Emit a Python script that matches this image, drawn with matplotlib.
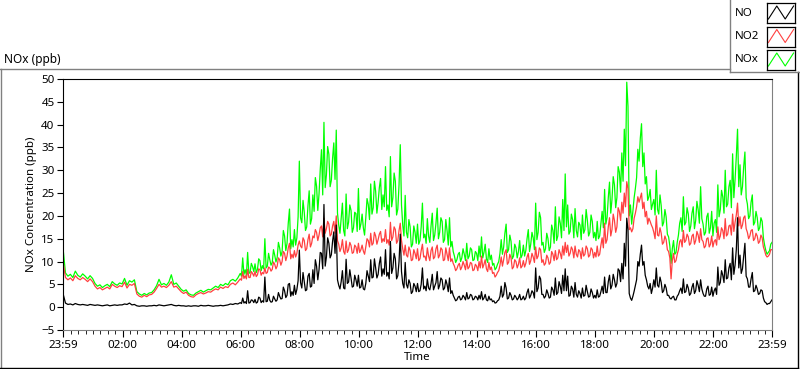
import numpy as np
import matplotlib
matplotlib.use('Agg')
import matplotlib.pyplot as plt
from matplotlib.lines import Line2D

plt.rcParams['font.family'] = ['Noto Sans', 'DejaVu Sans']

# night part: 5-minute samples from 23:59, one row per hour (00..05)
no_night = [
    3.0, 0.9, 0.6, 0.7, 0.5, 0.8, 0.6, 0.5, 0.6, 0.5, 0.4, 0.6,
    0.5, 0.4, 0.5, 0.4, 0.3, 0.4, 0.5, 0.3, 0.4, 0.5, 0.4, 0.5,
    0.5, 0.7, 0.6, 0.9, 0.5, 0.6, 0.3, 0.2, 0.3, 0.3, 0.2, 0.3,
    0.3, 0.4, 0.3, 0.5, 0.4, 0.3, 0.4, 0.5, 0.6, 0.4, 0.3, 0.4,
    0.3, 0.3, 0.2, 0.3, 0.2, 0.3, 0.3, 0.2, 0.4, 0.3, 0.3, 0.4,
    0.3, 0.2, 0.3, 0.3, 0.4, 0.3, 0.4, 0.5, 0.7, 0.6, 0.8, 0.7,
]
no2_night = [
    10.0, 6.5, 6.0, 6.4, 5.8, 6.9, 6.3, 6.0, 6.5, 6.1, 5.6, 6.2,
    5.6, 4.6, 4.0, 4.3, 3.8, 4.1, 4.4, 4.0, 5.0, 4.6, 4.3, 4.7,
    4.5, 5.5, 4.2, 5.0, 4.8, 5.2, 2.9, 2.4, 2.2, 2.6, 2.3, 2.7,
    2.8, 3.3, 4.1, 5.0, 4.4, 4.6, 4.3, 4.8, 5.6, 4.4, 4.6, 4.0,
    3.4, 3.0, 3.3, 2.6, 2.3, 2.2, 2.7, 3.0, 3.2, 2.9, 3.1, 3.4,
    3.3, 3.7, 4.0, 3.8, 4.4, 4.1, 4.5, 4.3, 5.0, 5.3, 4.9, 5.5,
]
nox_night = [
    13.0, 7.5, 6.8, 7.2, 6.5, 7.9, 7.0, 6.6, 7.3, 6.8, 6.2, 6.9,
    6.3, 5.2, 4.6, 4.9, 4.3, 4.7, 5.0, 4.5, 5.6, 5.1, 4.8, 5.3,
    5.1, 6.3, 4.8, 5.8, 5.5, 6.0, 3.4, 2.9, 2.6, 3.0, 2.7, 3.1,
    3.2, 3.8, 4.7, 6.1, 4.9, 5.2, 4.8, 5.5, 7.1, 5.0, 5.3, 4.6,
    3.9, 3.5, 3.8, 3.0, 2.7, 2.6, 3.1, 3.4, 3.7, 3.3, 3.6, 3.9,
    3.8, 4.2, 4.6, 4.3, 5.0, 4.7, 5.2, 4.9, 5.8, 6.1, 5.7, 6.4,
]

# day part: 2.5-minute samples from 06:00 to 23:59, one row per hour (06..23)
no_day = [
    1.0, 0.8, 2.0, 0.9, 1.2, 0.8, 3.6, 0.9, 1.0, 1.6, 1.5, 1.0, 1.7, 0.9, 1.1, 2.2, 2.0, 1.0, 1.4, 1.1, 6.6, 1.2, 1.3, 2.8,
    1.5, 1.1, 1.2, 2.4, 1.8, 1.3, 1.6, 3.2, 2.4, 1.8, 1.9, 4.4, 3.6, 2.1, 2.6, 5.0, 5.2, 2.4, 3.4, 2.6, 4.8, 2.8, 3.9, 5.8,
    12.5, 5.4, 4.2, 7.6, 5.6, 3.6, 3.8, 6.8, 7.4, 4.4, 4.6, 8.2, 5.2, 10.4, 9.0, 6.0, 8.2, 12.0, 11.8, 8.4, 22.5, 9.0, 11.0, 15.2,
    14.0, 10.8, 11.5, 14.4, 16.5, 11.8, 18.0, 6.0, 4.8, 4.0, 5.6, 8.0, 4.2, 4.0, 10.5, 5.2, 5.5, 8.2, 6.4, 4.4, 4.6, 7.0, 6.0, 4.6,
    7.0, 4.2, 4.4, 6.0, 4.0, 3.8, 5.2, 8.0, 6.8, 5.6, 10.4, 6.4, 6.6, 10.6, 8.6, 6.4, 7.2, 9.6, 11.0, 6.8, 8.4, 7.2, 12.6, 6.8,
    7.6, 6.2, 14.4, 7.4, 8.6, 11.8, 10.6, 6.2, 6.9, 10.0, 16.0, 7.8, 5.2, 4.2, 9.8, 5.0, 4.2, 6.0, 5.2, 3.0, 3.4, 5.2, 4.6, 3.4,
    5.2, 3.4, 3.6, 5.0, 8.6, 4.0, 4.6, 3.6, 6.2, 4.2, 3.8, 5.2, 7.2, 3.8, 4.6, 5.4, 7.8, 4.0, 4.8, 6.4, 6.0, 3.8, 4.2, 6.0,
    5.0, 3.4, 6.4, 3.0, 3.6, 2.6, 2.0, 1.4, 1.6, 2.2, 2.4, 1.6, 1.8, 2.6, 2.2, 1.6, 3.2, 1.8, 2.0, 2.8, 2.6, 1.6, 1.8, 2.4,
    2.2, 1.6, 2.6, 1.8, 3.4, 1.6, 2.0, 2.8, 1.6, 1.4, 2.4, 1.6, 1.8, 1.2, 1.4, 0.9, 1.0, 1.4, 1.6, 2.4, 4.6, 2.2, 2.8, 5.4,
    4.2, 1.8, 2.0, 3.2, 2.6, 1.6, 1.8, 2.6, 2.2, 1.6, 2.0, 2.8, 1.6, 1.8, 2.4, 1.6, 2.0, 3.2, 4.0, 2.0, 2.6, 3.6, 3.2, 2.0,
    8.6, 3.4, 4.2, 6.8, 6.2, 2.8, 2.8, 2.0, 2.4, 3.8, 3.0, 2.0, 2.2, 4.4, 3.8, 2.6, 6.4, 2.8, 3.2, 5.6, 4.6, 3.0, 7.0, 3.6,
    8.4, 3.6, 6.8, 2.4, 2.6, 4.6, 4.0, 2.2, 5.4, 2.8, 2.2, 3.6, 3.0, 2.0, 4.2, 2.4, 2.6, 4.8, 3.4, 2.2, 2.4, 4.0, 3.2, 2.0,
    2.6, 2.0, 3.8, 2.2, 2.4, 3.4, 4.6, 3.0, 6.6, 3.2, 3.2, 5.6, 7.0, 4.0, 4.8, 7.2, 6.0, 4.4, 5.2, 8.4, 8.0, 5.6, 9.6, 6.2,
    14.0, 9.0, 19.5, 17.0, 3.0, 2.0, 1.5, 2.4, 3.5, 4.8, 6.0, 10.0, 9.0, 11.6, 13.6, 9.2, 10.0, 7.0, 6.0, 4.6, 4.0, 5.2, 3.0, 4.2,
    6.0, 4.4, 8.6, 4.8, 4.4, 6.6, 5.4, 3.2, 3.6, 5.0, 4.2, 2.6, 2.6, 2.0, 1.8, 2.2, 2.4, 1.6, 1.6, 2.4, 2.8, 3.6, 4.2, 3.0,
    6.2, 3.2, 3.4, 5.0, 4.2, 2.6, 3.0, 4.4, 5.2, 3.0, 3.6, 5.8, 4.8, 3.4, 6.0, 4.0, 3.0, 2.4, 2.4, 4.0, 4.6, 2.6, 2.8, 4.4,
    2.4, 3.6, 4.2, 2.8, 8.8, 4.8, 5.4, 8.0, 7.0, 5.4, 10.4, 6.2, 6.4, 8.6, 9.6, 6.0, 13.0, 7.2, 9.2, 12.6, 19.6, 8.6, 11.4, 7.4,
    8.4, 11.2, 14.0, 6.8, 6.2, 4.4, 4.4, 6.2, 7.6, 3.4, 3.6, 4.8, 4.0, 2.8, 3.0, 3.8, 3.6, 2.0, 1.2, 1.0, 0.6, 0.8, 0.8, 1.2,
    1.6,
]
no2_day = [
    6.2, 5.9, 7.8, 6.3, 6.9, 6.2, 8.3, 6.5, 6.5, 7.8, 7.4, 6.8, 7.8, 6.7, 7.1, 8.4, 8.2, 7.0, 7.6, 7.3, 8.6, 7.4, 7.6, 8.8,
    8.6, 7.9, 8.3, 9.9, 9.4, 8.4, 9.0, 10.8, 10.4, 9.2, 10.0, 12.2, 11.8, 10.2, 11.2, 13.0, 14.0, 10.6, 11.6, 10.8, 12.4, 11.0, 11.8, 13.6,
    14.5, 13.4, 13.0, 15.2, 14.6, 12.4, 12.8, 14.8, 16.0, 13.2, 14.0, 15.6, 15.2, 17.0, 16.4, 14.6, 15.8, 17.4, 17.8, 15.4, 19.5, 16.2, 17.2, 18.8,
    18.2, 15.6, 16.0, 17.8, 18.8, 16.2, 20.0, 14.6, 13.8, 12.2, 13.0, 14.8, 12.2, 11.6, 14.5, 12.0, 12.6, 14.2, 13.5, 11.8, 12.0, 13.6, 13.2, 11.8,
    14.0, 12.0, 12.6, 13.6, 12.3, 11.6, 13.2, 15.0, 14.6, 13.2, 16.2, 13.6, 14.0, 16.4, 15.6, 13.8, 14.8, 16.0, 16.6, 14.2, 15.0, 14.4, 17.0, 14.0,
    14.8, 13.6, 18.6, 14.6, 15.4, 17.6, 17.0, 14.0, 14.6, 16.8, 18.4, 14.6, 12.8, 11.4, 13.6, 11.4, 11.0, 13.2, 12.4, 10.2, 10.4, 12.6, 11.8, 10.6,
    12.8, 10.2, 10.6, 12.4, 13.8, 11.0, 11.2, 10.2, 13.0, 11.2, 10.2, 12.4, 13.2, 10.6, 11.0, 12.8, 13.6, 10.8, 11.4, 13.0, 12.6, 10.2, 10.4, 13.0,
    11.6, 10.2, 13.0, 10.0, 10.6, 9.6, 9.0, 8.0, 8.4, 9.2, 9.6, 8.2, 8.8, 10.0, 9.2, 8.2, 10.4, 8.4, 8.8, 9.8, 9.6, 8.0, 8.2, 9.4,
    9.0, 8.0, 10.0, 8.6, 11.2, 8.6, 9.4, 10.4, 8.4, 7.8, 9.8, 8.2, 8.8, 7.4, 7.6, 6.6, 7.0, 7.6, 8.0, 9.2, 11.0, 9.0, 10.4, 12.0,
    12.6, 9.4, 9.8, 11.6, 10.8, 8.4, 8.8, 10.4, 10.0, 8.6, 9.4, 10.8, 8.6, 9.0, 10.2, 8.8, 9.6, 11.0, 11.8, 9.4, 10.2, 11.8, 11.0, 9.8,
    13.2, 10.6, 11.2, 13.0, 12.6, 9.8, 10.4, 9.2, 9.6, 11.4, 10.8, 9.4, 9.8, 12.2, 11.6, 10.2, 12.4, 10.4, 10.8, 12.6, 11.8, 10.6, 13.4, 11.4,
    14.2, 12.0, 13.6, 11.2, 11.8, 13.2, 12.6, 10.8, 13.4, 11.6, 11.0, 12.6, 12.2, 10.6, 13.0, 11.2, 11.6, 13.4, 12.8, 11.0, 11.4, 13.0, 12.6, 10.8,
    12.0, 11.0, 13.4, 11.2, 11.6, 13.6, 15.2, 13.0, 18.4, 14.0, 14.8, 17.6, 19.6, 15.6, 17.0, 20.4, 19.0, 16.4, 17.6, 21.8, 21.0, 19.0, 23.0, 20.6,
    25.0, 22.0, 27.5, 26.0, 17.0, 17.4, 16.5, 17.2, 19.5, 20.6, 22.0, 24.2, 23.0, 24.0, 25.0, 21.6, 23.0, 19.8, 21.0, 18.2, 19.5, 18.8, 18.0, 17.4,
    16.4, 15.0, 20.0, 15.8, 15.6, 17.4, 16.2, 13.8, 14.2, 15.6, 14.8, 12.6, 12.2, 10.8, 6.2, 10.2, 11.8, 9.8, 10.2, 11.6, 12.6, 14.4, 14.8, 13.2,
    16.8, 14.2, 14.6, 16.0, 15.4, 13.6, 14.0, 15.6, 16.0, 13.8, 14.6, 16.6, 15.8, 14.2, 17.2, 14.8, 14.4, 13.0, 13.4, 15.0, 15.2, 13.2, 13.8, 15.6,
    13.2, 14.4, 14.8, 13.6, 17.6, 14.8, 15.6, 17.4, 16.8, 15.0, 19.4, 15.6, 16.0, 17.8, 18.0, 15.8, 20.4, 16.6, 18.6, 20.2, 22.8, 17.8, 19.8, 17.2,
    18.0, 19.6, 20.0, 17.2, 16.4, 15.0, 15.6, 16.8, 17.0, 14.6, 15.0, 16.2, 15.6, 14.0, 14.4, 15.8, 15.2, 13.2, 12.4, 11.4, 11.0, 11.2, 11.6, 12.6,
    12.6,
]
nox_day = [
    7.4, 6.8, 10.8, 7.2, 8.2, 7.0, 12.0, 7.4, 7.6, 9.6, 8.9, 7.8, 9.5, 7.6, 8.3, 10.6, 10.2, 8.0, 9.1, 8.4, 15.0, 8.6, 9.0, 11.8,
    10.4, 9.2, 9.8, 12.6, 11.4, 9.9, 10.9, 14.2, 13.0, 11.2, 12.2, 16.8, 15.6, 12.4, 14.0, 18.4, 21.5, 12.8, 14.8, 13.2, 17.0, 13.6, 15.2, 19.8,
    32.0, 19.6, 18.5, 23.4, 20.8, 16.8, 17.6, 22.2, 25.5, 18.2, 19.4, 24.6, 21.0, 28.4, 26.5, 21.2, 24.8, 30.2, 34.5, 24.6, 40.5, 26.2, 29.0, 35.2,
    33.5, 26.4, 27.8, 32.6, 36.0, 28.0, 38.8, 20.6, 18.0, 16.2, 19.5, 22.8, 16.8, 15.6, 24.8, 17.2, 18.6, 22.4, 21.2, 16.4, 17.4, 20.8, 20.5, 16.6,
    26.0, 17.0, 18.2, 20.4, 17.4, 15.8, 19.6, 23.8, 22.5, 19.2, 27.0, 20.4, 21.8, 27.6, 25.4, 20.6, 23.0, 26.2, 28.2, 21.4, 24.6, 22.0, 30.8, 21.2,
    22.4, 19.8, 33.0, 22.0, 24.0, 29.4, 27.6, 20.2, 21.5, 26.8, 35.6, 22.4, 18.0, 15.6, 24.5, 16.4, 15.2, 19.2, 17.6, 13.2, 13.8, 17.8, 16.4, 14.0,
    18.2, 13.8, 14.6, 17.6, 22.8, 15.2, 16.0, 14.0, 19.4, 15.6, 14.2, 17.8, 20.6, 14.6, 15.8, 18.4, 21.7, 15.0, 16.4, 19.6, 18.8, 14.2, 14.8, 19.2,
    16.8, 13.6, 19.6, 13.2, 14.4, 12.2, 11.2, 9.8, 10.4, 11.6, 12.0, 10.0, 10.8, 12.8, 11.6, 10.2, 14.0, 10.6, 11.2, 13.0, 12.6, 10.2, 10.4, 12.2,
    11.8, 10.2, 13.4, 11.0, 15.4, 10.8, 12.0, 13.8, 10.6, 9.8, 12.8, 10.4, 11.4, 9.2, 9.6, 8.2, 8.6, 9.4, 10.0, 11.8, 14.8, 11.6, 13.2, 16.2,
    18.2, 12.0, 12.6, 15.8, 14.4, 10.6, 11.2, 13.8, 13.0, 10.8, 12.2, 14.6, 10.8, 11.4, 13.6, 11.2, 12.4, 15.0, 17.0, 12.2, 13.8, 16.4, 15.2, 12.6,
    22.8, 14.8, 16.4, 20.8, 19.6, 13.6, 14.2, 12.0, 12.8, 16.2, 15.0, 12.4, 13.2, 18.0, 16.8, 14.0, 22.0, 14.6, 15.6, 19.8, 18.4, 15.2, 23.6, 16.8,
    29.2, 17.6, 22.4, 16.0, 16.6, 20.4, 19.2, 15.2, 21.6, 16.8, 15.4, 18.6, 18.0, 14.8, 20.2, 16.2, 17.0, 21.4, 19.0, 15.6, 16.4, 20.2, 18.8, 15.2,
    16.4, 14.6, 18.8, 15.0, 15.6, 18.2, 21.0, 17.4, 25.8, 18.2, 19.6, 24.0, 27.4, 20.6, 23.6, 28.6, 26.8, 21.8, 24.0, 30.8, 29.6, 25.2, 33.8, 27.6,
    39.0, 31.0, 49.3, 44.0, 20.0, 22.4, 18.2, 21.0, 24.0, 26.0, 28.4, 34.6, 32.0, 37.0, 40.2, 30.8, 33.8, 27.0, 28.6, 23.4, 24.2, 25.8, 21.4, 22.6,
    23.6, 20.2, 30.0, 21.4, 20.4, 24.6, 22.2, 17.8, 18.6, 21.4, 19.8, 16.0, 15.4, 13.4, 9.6, 12.8, 14.6, 11.6, 12.0, 14.2, 15.8, 18.4, 19.6, 16.6,
    24.2, 18.0, 18.6, 21.8, 20.4, 16.6, 17.8, 20.6, 22.0, 17.2, 19.0, 23.2, 21.4, 18.4, 26.4, 19.4, 18.2, 15.8, 16.4, 19.8, 20.6, 16.2, 17.4, 21.0,
    15.6, 18.4, 19.2, 16.4, 26.8, 19.8, 21.4, 25.6, 24.2, 20.6, 30.0, 22.0, 22.6, 26.4, 27.8, 21.8, 33.6, 24.0, 28.0, 33.0, 39.0, 26.4, 31.2, 24.6,
    26.4, 30.8, 34.0, 24.0, 22.6, 19.4, 20.0, 23.0, 24.6, 18.0, 18.6, 21.0, 19.6, 16.8, 17.4, 19.6, 18.8, 15.2, 13.6, 12.4, 11.6, 12.0, 12.4, 13.8,
    14.2,
]
tick_labels = ['23:59', '02:00', '04:00', '06:00', '08:00', '10:00', '12:00',
               '14:00', '16:00', '18:00', '20:00', '22:00', '23:59']

W, H = 800, 369
fig = plt.figure(figsize=(W / 100, H / 100), dpi=100)


def fx(x):
    return x / W


def fy(y):
    return 1 - y / H


# hours since 23:59
t = np.concatenate([np.arange(len(no_night)) * 5 / 60.0,
                    6 + np.arange(len(no_day)) * 2.5 / 60.0])
no = no_night + no_day
no2 = no2_night + no2_day
nox = nox_night + nox_day

ax = fig.add_axes([fx(63), fy(330), fx(772) - fx(63), fy(79) - fy(330)])
ax.plot(t, nox, color='#00ff00', lw=0.9)
ax.plot(t, no2, color='#ff4040', lw=0.9)
ax.plot(t, no, color='black', lw=0.9)

ax.set_xlim(0, 24)
ax.set_ylim(-5, 50)
ax.set_yticks(np.arange(-5, 51, 5))
ax.tick_params(axis='y', labelsize=8.3, length=4, pad=2)
major = [0] + [2 * k + 1 / 60 for k in range(1, 12)] + [24]
ax.set_xticks(major)
ax.set_xticklabels(tick_labels)
ax.set_xticks([0.25 * k + 1 / 60 for k in range(1, 96) if (k % 8) != 0], minor=True)
ax.tick_params(axis='x', which='major', labelsize=8.3, length=5, pad=2)
ax.tick_params(axis='x', which='minor', length=3)
ax.set_ylabel('NOx Concentration (ppb)', fontsize=8.3, labelpad=3)
ax.set_xlabel('Time', fontsize=8.3, labelpad=1)
for s in ['left', 'top']:
    ax.spines[s].set_color('black')
for s in ['right', 'bottom']:
    ax.spines[s].set_color('#808080')

# outer frame
gray = '#808080'
fig.add_artist(Line2D([fx(0), fx(730)], [fy(69), fy(69)], color=gray, lw=1))
fig.add_artist(Line2D([fx(1), fx(1)], [fy(69), fy(368)], color=gray, lw=1))
fig.add_artist(Line2D([fx(0), fx(798)], [fy(367.5), fy(367.5)], color='black', lw=1))
fig.add_artist(Line2D([fx(797.5), fx(797.5)], [fy(72), fy(368)], color='black', lw=1))
fig.text(fx(4), fy(59), 'NOx (ppb)', fontsize=8.5, va='center', ha='left')

# legend block
fig.add_artist(Line2D([fx(730), fx(730)], [fy(0), fy(72)], color=gray, lw=1))
fig.add_artist(Line2D([fx(730), fx(800)], [fy(72), fy(72)], color=gray, lw=1))
leg_names = ['NO', 'NO2', 'NOx']
leg_colors = ['black', '#ff4040', '#00ff00']
for i, (name, c) in enumerate(zip(leg_names, leg_colors)):
    yc = 13 + 23.5 * i
    fig.text(fx(735), fy(yc), name, fontsize=8.3, va='center', ha='left')
    iax = fig.add_axes([fx(767), fy(yc + 10), fx(795) - fx(767), fy(yc - 10) - fy(yc + 10)])
    iax.plot([0.05, 0.35, 0.65, 0.95], [0.2, 0.85, 0.2, 0.85], color=c, lw=0.8)
    iax.set_xlim(0, 1)
    iax.set_ylim(0, 1)
    iax.set_xticks([])
    iax.set_yticks([])
    for s in iax.spines.values():
        s.set_color('black')
        s.set_linewidth(0.9)

fig.savefig('out.png', dpi=100)
